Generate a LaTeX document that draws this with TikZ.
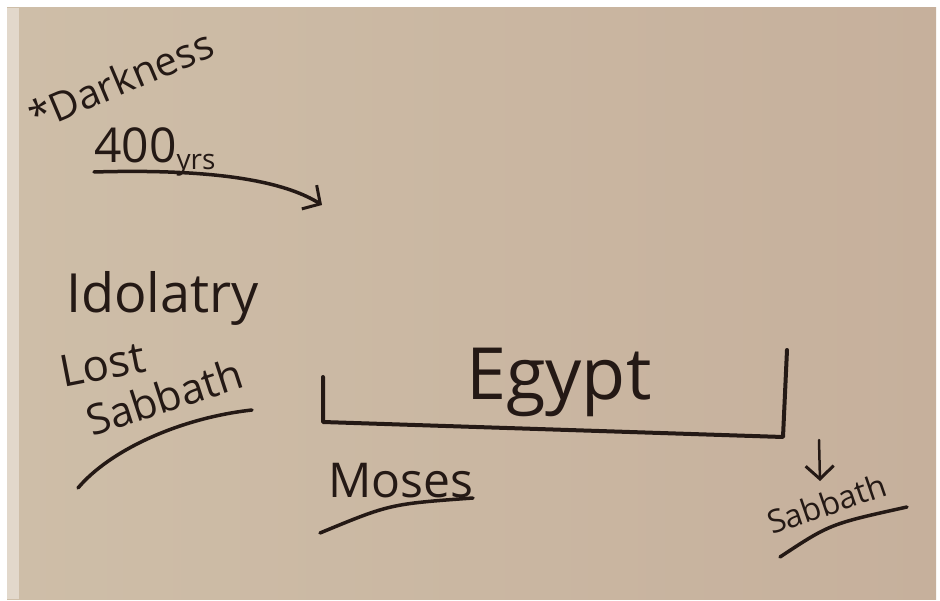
\documentclass[tikz,border=0pt]{standalone}
\usepackage{fontspec}
\setmainfont{Open Sans}
\usetikzlibrary{arrows.meta}
\definecolor{board}{RGB}{198,176,156}
\definecolor{boardlight}{RGB}{206,190,168}
\definecolor{marker}{RGB}{36,25,21}
\tikzset{
  pen/.style={draw=marker,line width=3.5pt,line cap=round,line join=round},
  scrawl/.style={text=marker,inner sep=0pt,anchor=base west},
  barb/.style={-{Straight Barb[length=13pt,width=28pt,line width=3pt]}}
}
\newcommand{\fsz}[1]{\fontsize{#1}{#1}\selectfont}
\begin{document}
\begin{tikzpicture}[x=1pt,y=-1pt]
			\useasboundingbox (0,0) rectangle (940,601);
			\fill[white] (0,0) rectangle (940,601);
			\shade[left color=boardlight,right color=board] (7,8) rectangle (936,599);
			\fill[white!40!boardlight] (7,8) rectangle (19,599);
			% words on the board
			\node[scrawl,font=\fsz{40},rotate=23] (darkness) at (36,132) {*Darkness};
			\node[scrawl,font=\fsz{48}] (years) at (94,163) {400\raisebox{-7pt}{\fsz{28}yrs}};
			\node[scrawl,font=\fsz{54}] (idolatry) at (66,313) {Idolatry};
			\node[scrawl,font=\fsz{44},rotate=11] (lost) at (63,388) {Lost};
			\node[scrawl,font=\fsz{42},rotate=18] (sabbath) at (92,437) {Sabbath};
			\node[scrawl,font=\fsz{72}] (egypt) at (466,400) {Egypt};
			\node[scrawl,font=\fsz{48}] (moses) at (328,497) {Moses};
			\node[scrawl,font=\fsz{32},rotate=19] (rest) at (772,535) {Sabbath};
			\coordinate (drift) at (322,205);
			\coordinate (corner) at (819,440);
			\coordinate (landing) at (820,481);
			% strokes
			\draw[pen,barb] ([yshift=-9pt]years.base west) .. controls (230,168) and (290,185) .. (drift);
			\draw[pen,line width=4pt] (323,377) -- (323,422) -- (783,437) -- (787,350);
			\draw[pen,barb,line width=2.5pt] (corner) -- (landing);
			\draw[pen] (78,488) .. controls (110,450) and (180,418) .. (252,410);
			\draw[pen] (320,533) .. controls (390,504) .. (473,498);
			\draw[pen] (780,557) .. controls (830,524) .. (907,507);
		\end{tikzpicture}
\end{document}
